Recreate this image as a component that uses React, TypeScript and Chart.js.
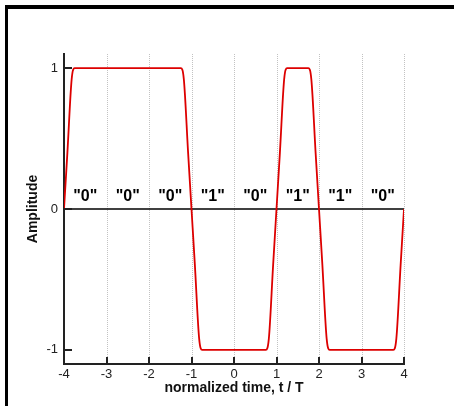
import React, { useEffect, useRef } from "react";
import { Chart, registerables } from "chart.js";

Chart.register(...registerables);

// Waveform samples (normalized time t/T, amplitude)
const timeT = [
  -4, -3.92, -3.82, -3.75,
  -1.25, -1.18, -1.08, -1, -0.92, -0.82, -0.75,
  0.75, 0.82, 0.92, 1, 1.08, 1.18, 1.25,
  1.75, 1.82, 1.92, 2, 2.08, 2.18, 2.25,
  3.75, 3.82, 3.92, 4,
];
const amplitude = [
  0, 0.4, 0.92, 1,
  1, 0.92, 0.4, 0, -0.4, -0.92, -1,
  -1, -0.92, -0.4, 0, 0.4, 0.92, 1,
  1, 0.92, 0.4, 0, -0.4, -0.92, -1,
  -1, -0.92, -0.4, 0,
];

const xTicks = [-4, -3, -2, -1, 0, 1, 2, 3, 4];
const yTicks = [-1, 0, 1];
const zeroLineT = [-4, 4];

const bitCenters = [-3.5, -2.5, -1.5, -0.5, 0.5, 1.5, 2.5, 3.5];
const bitLabels = ['"0"', '"0"', '"0"', '"1"', '"0"', '"1"', '"1"', '"0"'];
const bitLabelLevel = 0.085;

const FONT = '"Liberation Sans", Arial, Helvetica, sans-serif';

const overlay = {
  id: "overlay",
  beforeDatasetsDraw(chart: any) {
    const { ctx, chartArea: a, scales } = chart;
    const x = scales.x;
    ctx.save();
    ctx.strokeStyle = "#c2c2c2";
    ctx.lineWidth = 1;
    ctx.setLineDash([1, 1]);
    xTicks.forEach((v) => {
      if (v === xTicks[0]) return;
      const px = Math.round(x.getPixelForValue(v)) + 0.5;
      ctx.beginPath();
      ctx.moveTo(px, a.top);
      ctx.lineTo(px, a.bottom);
      ctx.stroke();
    });
    ctx.restore();
  },
  afterDatasetsDraw(chart: any) {
    const { ctx, scales } = chart;
    const x = scales.x;
    const y = scales.y;
    ctx.save();
    ctx.font = `bold 16px ${FONT}`;
    ctx.textAlign = "center";
    ctx.textBaseline = "middle";
    ctx.fillStyle = "#000";
    bitCenters.forEach((c, i) => {
      ctx.fillText(bitLabels[i], x.getPixelForValue(c), y.getPixelForValue(bitLabelLevel));
    });
    ctx.restore();
  },
  afterDraw(chart: any) {
    const { ctx, chartArea: a, scales } = chart;
    const x = scales.x;
    const y = scales.y;
    ctx.save();
    ctx.strokeStyle = "#222";
    ctx.lineWidth = 2;
    xTicks.forEach((v) => {
      const px = Math.round(x.getPixelForValue(v));
      ctx.beginPath();
      ctx.moveTo(px, a.bottom);
      ctx.lineTo(px, a.bottom - 7);
      ctx.stroke();
    });
    yTicks.forEach((v) => {
      const py = Math.round(y.getPixelForValue(v));
      ctx.beginPath();
      ctx.moveTo(a.left, py);
      ctx.lineTo(a.left + 8, py);
      ctx.stroke();
    });
    ctx.restore();
  },
};

export default function App() {
  const ref = useRef<HTMLCanvasElement | null>(null);

  useEffect(() => {
    if (!ref.current) return;
    const chart = new Chart(ref.current, {
      type: "line",
      data: {
        datasets: [
          {
            data: timeT.map((t, i) => ({ x: t, y: amplitude[i] })),
            borderColor: "#dd0000",
            borderWidth: 1.8,
            pointRadius: 0,
            cubicInterpolationMode: "monotone",
            fill: false,
          },
          {
            data: zeroLineT.map((t) => ({ x: t, y: 0 })),
            borderColor: "#000",
            borderWidth: 1.5,
            pointRadius: 0,
            fill: false,
          },
        ],
      },
      options: {
        animation: false,
        responsive: false,
        devicePixelRatio: 1,
        layout: { padding: { left: 0, right: 50, top: 54, bottom: 0 } },
        plugins: { legend: { display: false }, tooltip: { enabled: false } },
        scales: {
          x: {
            type: "linear",
            min: -4,
            max: 4,
            afterBuildTicks: (s: any) => {
              s.ticks = xTicks.map((v) => ({ value: v }));
            },
            afterFit: (s: any) => {
              s.height = 42;
            },
            grid: { display: false, drawTicks: false },
            border: { display: true, color: "#222", width: 2 },
            ticks: {
              padding: 3,
              autoSkip: false,
              maxRotation: 0,
              color: "#222",
              font: { family: FONT, size: 13 },
            },
            title: {
              display: true,
              text: "normalized time, t / T",
              color: "#111",
              font: { family: FONT, size: 14, weight: "bold" },
              padding: { top: 0, bottom: 9 },
            },
          },
          y: {
            type: "linear",
            min: -1.1,
            max: 1.1,
            afterBuildTicks: (s: any) => {
              s.ticks = yTicks.map((v) => ({ value: v }));
            },
            afterFit: (s: any) => {
              s.width = 64;
            },
            grid: { display: false, drawTicks: false },
            border: { display: true, color: "#222", width: 2 },
            ticks: {
              padding: 6,
              color: "#222",
              font: { family: FONT, size: 13 },
            },
            title: {
              display: true,
              text: "Amplitude",
              color: "#111",
              font: { family: FONT, size: 14, weight: "bold" },
              padding: { top: 25, bottom: 0 },
            },
          },
        },
      },
      plugins: [overlay],
    } as any);
    return () => chart.destroy();
  }, []);

  return (
    <div style={{ position: "absolute", left: 0, top: 0, width: 454, height: 406, background: "#fff" }}>
      <canvas
        ref={ref}
        width={454}
        height={406}
        style={{ position: "absolute", left: 0, top: 0, width: 454, height: 406, display: "block" }}
      />
      <div
        style={{
          position: "absolute",
          left: 5,
          top: 5,
          width: 449,
          height: 401,
          boxSizing: "border-box",
          borderTop: "4px solid #000",
          borderLeft: "3px solid #000",
          pointerEvents: "none",
        }}
      />
    </div>
  );
}
